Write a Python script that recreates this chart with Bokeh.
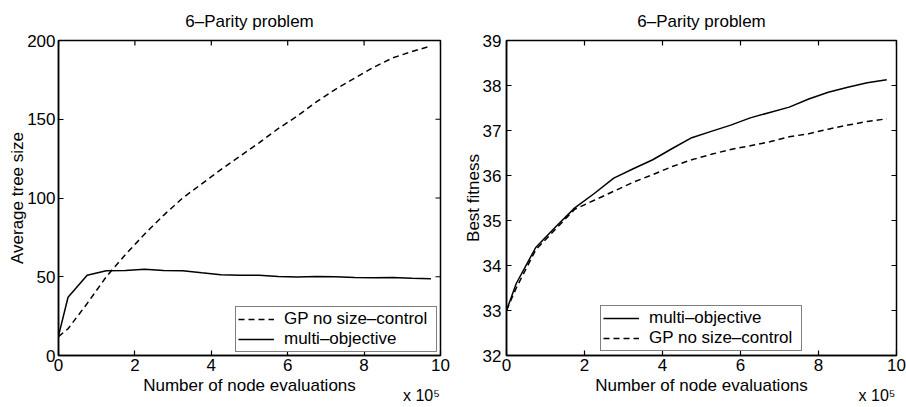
import math
from bokeh.plotting import figure
from bokeh.layouts import row
from bokeh.models import Range1d, LinearAxis, FixedTicker
from bokeh.embed import file_html
from bokeh.resources import INLINE

# node evaluations (x 10^5)
evals = [0, 0.25, 0.75, 1.25, 1.75, 2.25, 2.75, 3.25, 3.75, 4.25, 4.75,
         5.25, 5.75, 6.25, 6.75, 7.25, 7.75, 8.25, 8.75, 9.25, 9.75]

# Left panel: average tree size
size_gp = [12, 17, 33, 50, 64, 77, 89, 100, 109, 118, 126.5,
           135, 144, 152, 161, 169, 176, 183, 189, 193, 196.5]
size_mo = [12.5, 37, 51, 53.8, 54, 54.8, 54, 53.8, 52.5, 51.3, 51,
           50.9, 50.1, 49.9, 50.2, 50, 49.6, 49.3, 49.5, 49, 48.7]

# Right panel: best fitness
fit_mo = [33.0, 33.6, 34.4, 34.85, 35.28, 35.6, 35.94, 36.15, 36.35, 36.6, 36.84,
          36.98, 37.12, 37.28, 37.4, 37.52, 37.7, 37.85, 37.96, 38.06, 38.13]
fit_gp = [33.0, 33.5, 34.35, 34.8, 35.25, 35.45, 35.65, 35.85, 36.02, 36.2, 36.35,
          36.47, 36.58, 36.66, 36.75, 36.86, 36.93, 37.03, 37.12, 37.2, 37.26]

x_ticks = [0, 2, 4, 6, 8, 10]
left_yticks = [0, 50, 100, 150, 200]
right_yticks = [32, 33, 34, 35, 36, 37, 38, 39]

TITLE = "6\u2013Parity problem"
XLABEL = "Number of node evaluations"
MULT = "x 10\u2075"
LBL_GP = "GP no size\u2013control"
LBL_MO = "multi\u2013objective"

FONT = "Liberation Sans"
FS = "17px"


def style_axis(ax, standoff, label_standoff):
    ax.major_tick_in = 5
    ax.major_tick_out = 0
    ax.minor_tick_in = 0
    ax.minor_tick_out = 0
    ax.axis_line_width = 1.5
    ax.axis_line_color = "black"
    ax.major_tick_line_color = "black"
    ax.major_tick_line_width = 1.2
    ax.major_label_text_font = FONT
    ax.major_label_text_font_size = FS
    ax.major_label_text_color = "black"
    ax.axis_label_text_font = FONT
    ax.axis_label_text_font_style = "normal"
    ax.axis_label_text_font_size = FS
    ax.axis_label_text_color = "black"
    ax.axis_label_standoff = label_standoff
    ax.major_label_standoff = standoff


def make_fig(ylabel, y0, y1, yticks, mb, ystand, ylabstand):
    p = figure(width=453, height=407, output_backend="svg", toolbar_location=None,
               x_range=Range1d(0, 10), y_range=Range1d(y0, y1), title=TITLE,
               min_border_left=mb[0], min_border_right=mb[1],
               min_border_top=mb[2], min_border_bottom=mb[3])
    p.grid.visible = False
    p.outline_line_color = "black"
    p.outline_line_width = 1.5
    p.title.align = "center"
    p.title.text_font = FONT
    p.title.text_font_size = FS
    p.title.text_font_style = "normal"
    p.title.text_color = "black"
    p.title.standoff = 19
    p.xaxis.ticker = FixedTicker(ticks=x_ticks)
    p.yaxis.ticker = FixedTicker(ticks=yticks)
    p.xaxis.axis_label = XLABEL
    p.yaxis.axis_label = ylabel
    style_axis(p.xaxis[0], 3, 2)
    style_axis(p.yaxis[0], ystand, ylabstand)
    # "x 10^5" multiplier under the right end of the x axis
    mult = LinearAxis(ticker=FixedTicker(ticks=[9.5]),
                      major_label_overrides={9.5: MULT})
    style_axis(mult, -11, 0)
    mult.axis_line_color = None
    mult.major_tick_line_color = None
    mult.major_tick_in = 0
    mult.major_label_text_font_size = "16px"
    p.add_layout(mult, "below")
    # inward tick marks on the top and right edges (clipped to the frame)
    p.scatter(x_ticks, [y1] * len(x_ticks), marker="dash", size=10,
              angle=math.pi / 2, line_color="black", line_width=1.2)
    p.scatter([10] * len(yticks), yticks, marker="dash", size=10,
              line_color="black", line_width=1.2)
    return p


def style_legend(p, loc, margin):
    lg = p.legend[0]
    lg.location = loc
    lg.margin = margin
    lg.padding = 2
    lg.spacing = 0
    lg.label_height = 18
    lg.glyph_height = 18
    lg.glyph_width = 36
    lg.label_standoff = 10
    lg.label_width = 150
    lg.border_line_color = "black"
    lg.border_line_width = 1.2
    lg.label_text_font = FONT
    lg.label_text_font_size = FS
    lg.label_text_color = "black"
    lg.background_fill_color = "white"
    lg.background_fill_alpha = 1


p1 = make_fig("Average tree size", 0, 200, left_yticks, (58, 13, 40, 52), 3, -3)
p1.line(evals, size_gp, line_color="black", line_width=1.5, line_dash="6 4",
        legend_label=LBL_GP)
p1.line(evals, size_mo, line_color="black", line_width=1.5, legend_label=LBL_MO)
style_legend(p1, "bottom_right", 3)

p2 = make_fig("Best fitness", 32, 39, right_yticks, (53, 10, 38, 52), 5, -3)
p2.line(evals, fit_mo, line_color="black", line_width=1.5, legend_label=LBL_MO)
p2.line(evals, fit_gp, line_color="black", line_width=1.5, line_dash="6 4",
        legend_label=LBL_GP)
style_legend(p2, "bottom_center", 4)

layout = row(p1, p2)
open("out.html", "w").write(file_html(layout, INLINE))
